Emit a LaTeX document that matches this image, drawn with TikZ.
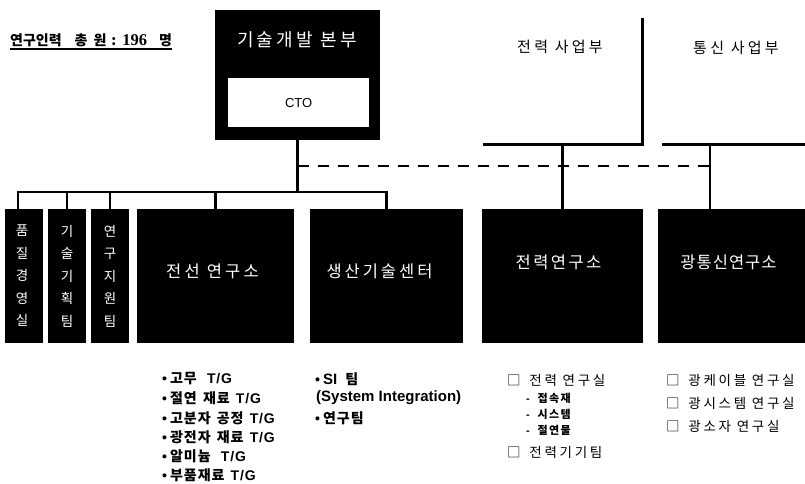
\documentclass[tikz,border=0pt]{standalone}
\usepackage{fontspec}
\setmainfont{Noto Sans CJK KR}
\newfontfamily\lat{Liberation Sans}
\newfontfamily\ser{Liberation Serif}
\newcommand\myfs[2]{\fontsize{#1}{#2}\selectfont}
\newcommand\myls[1]{\addfontfeature{LetterSpace=#1}}
\newcommand\mytg{{\lat\bfseries\myfs{14}{16}\myls{6}T/G}}
\newcommand\mybul{{\lat •}\hspace{3pt}}
\begin{document}
\begin{tikzpicture}[x=1pt,y=-1pt,
  blk/.style={fill=black,draw=none,inner sep=0pt,outer sep=0pt,anchor=north west},
  conn/.style={line width=2.6pt},
  dconn/.style={line width=2.6pt,dash pattern=on 11pt off 9pt},
  blab/.style={text=white,inner sep=0pt,font=\myfs{16.5}{18}\myls{#1}},
  vlab/.style={text=white,inner sep=0pt,align=center,font=\myfs{13.5}{22.5}},
  itm/.style={anchor=west,inner sep=0pt,font=\myfs{14}{15}\bfseries\myls{7}},
  sqitm/.style={anchor=west,inner sep=0pt,font=\myfs{13.5}{15}\myls{20}},
  subitm/.style={anchor=west,inner sep=0pt,font=\myfs{11}{12}\bfseries\myls{12}},
  biz/.style={inner sep=0pt,font=\myfs{15}{17}\myls{22}}]
\useasboundingbox (0,0) rectangle (805,483);

% title
\node[anchor=base west,inner sep=0pt,font=\myfs{14}{16}\bfseries] (title) at (10,45)
  {연구인력\hspace{13pt}총\hspace{6pt}원\hspace{5pt}:\hspace{6pt}{\ser\bfseries\myfs{16.5}{18}196}\hspace{12pt}명};
\draw[line width=1.3pt] ([yshift=-4pt]title.base west) -- ([yshift=-4pt]title.base east);

% headquarters
\node[blk,minimum width=165pt,minimum height=130pt] (hq) at (215,10) {};
\node[text=white,inner sep=0pt,font=\myfs{18}{20}\myls{18}] (hqt) at (297,40) {기술개발 본부};
\node[fill=white,anchor=north west,inner sep=0pt,minimum width=141pt,minimum height=49pt,
  font=\lat\myfs{13}{15}] (cto) at (228,78) {CTO};

% business divisions
\node[anchor=north west,inner sep=0pt,minimum width=159pt,minimum height=126pt] (jb) at (483,18) {};
\draw[conn] (jb.south west) -- (jb.south east) -- (jb.north east);
\node[biz] (jbt) at (560,47) {전력 사업부};
\node[anchor=north west,inner sep=0pt,minimum width=143pt,minimum height=126pt] (tb) at (662,18) {};
\draw[conn] (tb.south west) -- (tb.south east);
\node[biz] (tbt) at (736,48) {통신 사업부};
\coordinate (tstem) at (710,144);

% lower boxes
\node[blk,minimum width=38pt,minimum height=134pt] (b1) at (5,209) {};
\node[blk,minimum width=38pt,minimum height=134pt] (b2) at (48,209) {};
\node[blk,minimum width=38pt,minimum height=134pt] (b3) at (91,209) {};
\node[blk,minimum width=157pt,minimum height=134pt] (b4) at (137,209) {};
\node[blk,minimum width=153pt,minimum height=134pt] (b5) at (310,209) {};
\node[blk,minimum width=161pt,minimum height=134pt] (b6) at (482,209) {};
\node[blk,minimum width=147pt,minimum height=134pt] (b7) at (658,209) {};

\node[vlab] (l1) at ([xshift=-2pt]b1.center) {품\\질\\경\\영\\실};
\node[vlab] (l2) at (b2.center) {기\\술\\기\\획\\팀};
\node[vlab] (l3) at (b3.center) {연\\구\\지\\원\\팀};
\node[blab=20] (l4) at ([xshift=-3pt,yshift=5pt]b4.center) {전선 연구소};
\node[blab=18] (l5) at ([xshift=-7pt,yshift=5pt]b5.center) {생산기술센터};
\node[blab=15] (l6) at ([xshift=-4pt,yshift=14pt]b6.center) {전력연구소};
\node[blab=6] (l7) at ([xshift=-3pt,yshift=14pt]b7.center) {광통신연구소};

% connectors
\coordinate (busy) at (0,192);
\coordinate (dashy) at (0,166);
\coordinate (b1top) at ([xshift=-6pt]b1.north);
\draw[conn] (hq.south) -- (hq.south |- busy);
\draw[conn] (b1top) -- (b1top |- busy) -- (b5.north |- busy) -- (b5.north);
\draw[conn] (b2.north |- busy) -- (b2.north);
\draw[conn] (b3.north |- busy) -- (b3.north);
\draw[conn] (b4.north |- busy) -- (b4.north);
\draw[conn] (jb.south) -- (jb.south |- b6.north);
\draw[conn] (tstem) -- (tstem |- b7.north);
\draw[dconn] (hq.south |- dashy) -- (tstem |- dashy);

% lists
\node[itm] (a1) at (162,379) {\mybul 고무\hspace{6pt} \mytg};
\node[itm] (a2) at (162,398.5) {\mybul 절연\hspace{2pt} 재료\hspace{2pt} \mytg};
\node[itm] (a3) at (162,418) {\mybul 고분자\hspace{2pt} 공정\hspace{2pt} \mytg};
\node[itm] (a4) at (162,437) {\mybul 광전자\hspace{2pt} 재료\hspace{2pt} \mytg};
\node[itm] (a5) at (162,456) {\mybul 알미늄\hspace{6pt} \mytg};
\node[itm] (a6) at (162,475) {\mybul 부품재료\hspace{2pt} \mytg};

\node[itm] (p1) at (315,379) {\mybul{\lat\bfseries\myfs{15}{16}SI}\hspace{4pt} 팀};
\node[itm,font=\lat\bfseries\myfs{15}{16}] (p2) at (316,398) {(System Integration)};
\node[itm] (p3) at (315,418) {\mybul 연구팀};

\node[sqitm] (e1) at (507,380) {□\hspace{3pt} 전력 연구실};
\node[subitm] (e2) at (526,398) {{\lat -}\hspace{4pt} 접속재};
\node[subitm] (e3) at (526,414) {{\lat -}\hspace{4pt} 시스템};
\node[subitm] (e4) at (526,430) {{\lat -}\hspace{4pt} 절연물};
\node[sqitm] (e5) at (507,452) {□\hspace{3pt} 전력기기팀};

\node[sqitm] (g1) at (666,380) {□\hspace{3pt} 광케이블 연구실};
\node[sqitm] (g2) at (666,403) {□\hspace{3pt} 광시스템 연구실};
\node[sqitm] (g3) at (666,426) {□\hspace{3pt} 광소자 연구실};
\end{tikzpicture}
\end{document}
